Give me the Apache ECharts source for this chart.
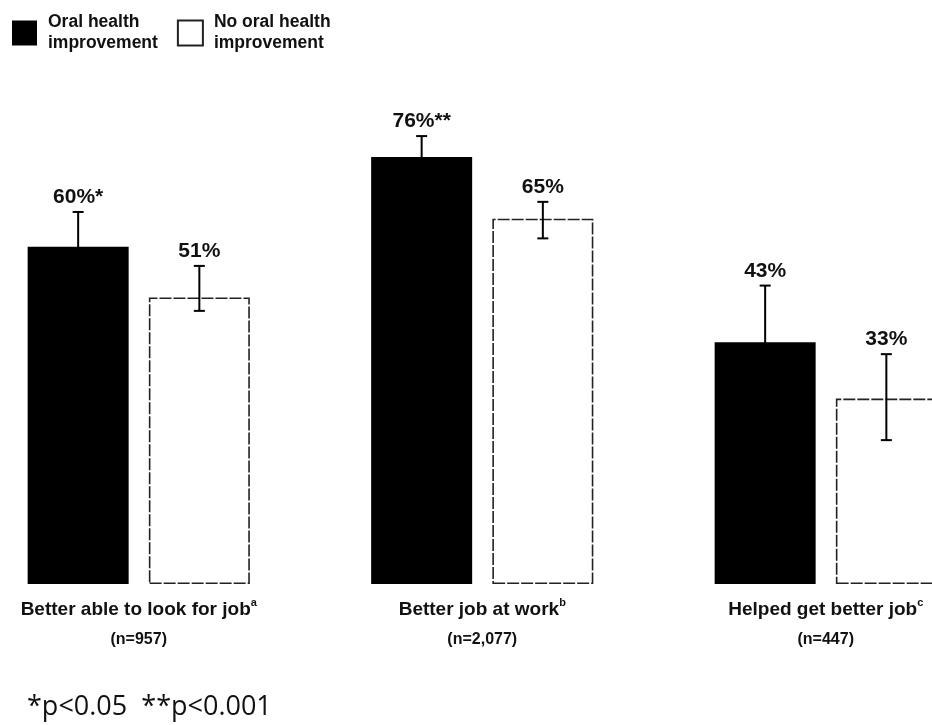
<!DOCTYPE html>
<html>
<head>
<meta charset="utf-8">
<script src="https://cdn.jsdelivr.net/npm/echarts@6/dist/echarts.min.js"></script>
<style>html,body{margin:0;padding:0;background:#fff;}#c{width:932px;height:725px;}</style>
</head>
<body>
<div id="c"></div>
<script>
const categories = ['Better able to look for job', 'Better job at work', 'Helped get better job'];
const footnoteMarks = ['a', 'b', 'c'];
const sampleSizes = ['(n=957)', '(n=2,077)', '(n=447)'];
const oralImprovement = [60, 76, 43];
const oralLow = [53.8, 72.3, 32.9];
const oralHigh = [66.2, 79.7, 53.1];
const oralSig = ['*', '**', ''];
const noImprovement = [51, 65, 33];
const noLow = [48.6, 61.5, 25.6];
const noHigh = [56.6, 68.0, 40.9];
const noSig = ['', '', ''];
const footnote = '*p<0.05  **p<0.001';

const BOLD = "'Liberation Sans', Arial, sans-serif";
const BAR_W = 101;
const GAP = 0.2;
const OFF = (BAR_W + BAR_W * GAP) / 2;

function errSeries(name, low, high, vals, sig, sign) {
  return {
    type: 'custom',
    name: name + ' CI',
    z: 5,
    clip: false,
    silent: true,
    data: vals.map((v, i) => [i, low[i], high[i], v]),
    renderItem: function (params, api) {
      const i = api.value(0);
      const lo = api.coord([i, api.value(1)]);
      const hi = api.coord([i, api.value(2)]);
      const x = lo[0] + sign * OFF;
      const cap = 5.5;
      const st = { stroke: '#000', lineWidth: 2 };
      return {
        type: 'group',
        children: [
          { type: 'line', shape: { x1: x, y1: lo[1], x2: x, y2: hi[1] }, style: st },
          { type: 'line', shape: { x1: x - cap, y1: hi[1], x2: x + cap, y2: hi[1] }, style: st },
          { type: 'line', shape: { x1: x - cap, y1: lo[1], x2: x + cap, y2: lo[1] }, style: st },
          {
            type: 'text',
            style: {
              text: api.value(3) + '%' + sig[params.dataIndex],
              x: x, y: hi[1] - 4,
              align: 'center', verticalAlign: 'bottom',
              font: 'bold 21px ' + BOLD,
              fill: '#111'
            }
          }
        ]
      };
    }
  };
}

const chart = echarts.init(document.getElementById('c'), null, { renderer: 'canvas' });
chart.setOption({
  animation: false,
  backgroundColor: '#fff',
  title: {
    text: footnote,
    left: 22,
    top: 686,
    textStyle: { fontFamily: "'Open Sans', 'Noto Sans', sans-serif", fontWeight: 'normal', fontSize: 27, color: '#111', lineHeight: 32 }
  },
  legend: {
    left: 12,
    top: 12,
    padding: 0,
    itemWidth: 25,
    itemHeight: 25,
    itemGap: 19,
    icon: 'rect',
    formatter: function (n) { return n.replace(' improvement', '\nimprovement'); },
    textStyle: { fontFamily: BOLD, fontWeight: 'bold', fontSize: 17.5, lineHeight: 21, color: '#111', padding: [0, 0, 0, 6] },
    data: ['Oral health improvement', 'No oral health improvement']
  },
  grid: { left: -33, right: -65.5, top: 22, bottom: 141, containLabel: false, outerBoundsMode: 'none' },
  xAxis: {
    type: 'category',
    data: categories,
    axisLine: { show: false },
    axisTick: { show: false },
    axisLabel: {
      margin: 13,
      interval: 0,
      formatter: function (v, i) { return '{m|' + v + '}{sup|' + footnoteMarks[i] + '}\n{n|' + sampleSizes[i] + '}'; },
      rich: {
        m: { fontFamily: BOLD, fontWeight: 'bold', fontSize: 19, lineHeight: 26, color: '#111' },
        sup: { fontFamily: BOLD, fontWeight: 'bold', fontSize: 11, lineHeight: 26, verticalAlign: 'top', color: '#111' },
        n: { fontFamily: BOLD, fontWeight: 'bold', fontSize: 16, lineHeight: 34, color: '#111' }
      }
    }
  },
  yAxis: { type: 'value', min: 0, max: 100, show: false, splitLine: { show: false } },
  series: [
    {
      name: 'Oral health improvement',
      type: 'bar',
      barWidth: BAR_W,
      barGap: '20%',
      data: oralImprovement,
      itemStyle: { color: '#000', borderColor: '#000', borderWidth: 0 }
    },
    {
      name: 'No oral health improvement',
      type: 'bar',
      barWidth: BAR_W,
      barGap: '20%',
      data: noImprovement,
      itemStyle: { color: '#ffffff', borderColor: '#222', borderWidth: 1.6, borderType: [12, 2] }
    },
    errSeries('Oral health improvement', oralLow, oralHigh, oralImprovement, oralSig, -1),
    errSeries('No oral health improvement', noLow, noHigh, noImprovement, noSig, 1)
  ]
});
</script>
</body>
</html>
